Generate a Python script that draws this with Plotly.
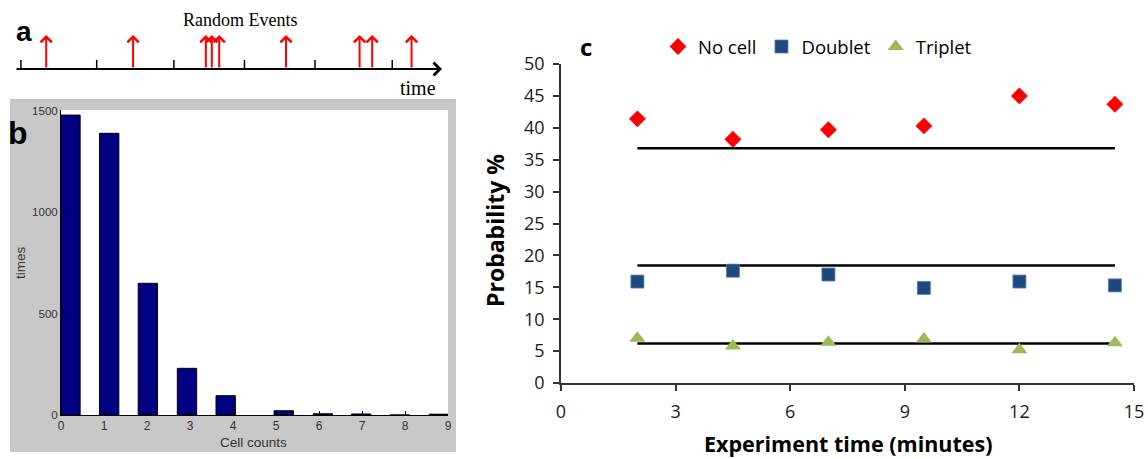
import plotly.graph_objects as go

W, H = 1148, 459

# ---------------- data ----------------
# panel a: random events on a timeline (arbitrary time units)
event_times = [0.34, 1.51, 2.49, 2.57, 2.67, 3.57, 4.56, 4.73, 5.26]
timeline_ticks = [0, 1.02, 2.06, 3.01, 3.96, 5.0]
timeline_range = [-0.08, 5.67]

# panel b: histogram of cell counts
cell_count_bins = [0.22, 1.12, 2.02, 2.93, 3.83, 5.18, 6.09, 6.98, 7.88, 8.79]
cell_count_times = [1478, 1388, 649, 230, 95, 21, 6, 5, 0, 4]
b_xticks = [0, 1, 2, 3, 4, 5, 6, 7, 8, 9]
b_yticks = [0, 500, 1000, 1500]

# panel c: probabilities vs experiment time
exp_time = [2, 4.5, 7, 9.5, 12, 14.5]
no_cell = [41.4, 38.2, 39.7, 40.3, 45.0, 43.7]
doublet = [15.9, 17.6, 17.0, 14.9, 15.9, 15.3]
triplet = [7.0, 5.8, 6.4, 6.9, 5.2, 6.3]
poisson_levels = [36.8, 18.4, 6.2]
c_xticks = [0, 3, 6, 9, 12, 15]
c_yticks = [0, 5, 10, 15, 20, 25, 30, 35, 40, 45, 50]


def px_x(p):
    return p / W


def px_y(p):
    return 1 - p / H


def label(text, x, y, family, size, color="black", bold=False, angle=0):
    f = dict(family=family, size=size, color=color)
    if bold:
        f["weight"] = "bold"
    return dict(text=text, x=px_x(x), y=px_y(y), xref="paper", yref="paper",
                xanchor="center", yanchor="middle", textangle=angle,
                showarrow=False, font=f)


fig = go.Figure()

# ---------- panel a ----------
fig.add_trace(go.Scatter(
    x=timeline_ticks, y=[0] * len(timeline_ticks), mode="markers",
    marker=dict(symbol="line-ns", size=13, line=dict(color="black", width=1.5)),
    xaxis="x", yaxis="y", showlegend=False, hoverinfo="skip"))

annotations = []
annotations.append(dict(
    x=timeline_range[1], y=0, ax=timeline_range[0], ay=0,
    xref="x", yref="y", axref="x", ayref="y", text="",
    showarrow=True, arrowhead=4, arrowsize=1.25, arrowwidth=2, arrowcolor="black"))
for t in event_times:
    annotations.append(dict(
        x=t, y=1, ax=t, ay=0, xref="x", yref="y", axref="x", ayref="y", text="",
        showarrow=True, arrowhead=4, arrowsize=1.1, arrowwidth=2, arrowcolor="#FF0000"))

# ---------- panel b ----------
fig.add_trace(go.Bar(
    x=cell_count_bins, y=cell_count_times, width=0.45,
    marker=dict(color="#000080", line=dict(color="black", width=1)),
    xaxis="x2", yaxis="y2", showlegend=False))

# ---------- panel c ----------
for lvl in poisson_levels:
    fig.add_trace(go.Scatter(
        x=[exp_time[0], exp_time[-1]], y=[lvl, lvl], mode="lines",
        line=dict(color="black", width=2.5),
        xaxis="x3", yaxis="y3", showlegend=False, hoverinfo="skip"))

fig.add_trace(go.Scatter(
    x=exp_time, y=no_cell, mode="markers", name="No cell",
    marker=dict(symbol="diamond", size=13, color="#FF0000"),
    xaxis="x3", yaxis="y3"))
fig.add_trace(go.Scatter(
    x=exp_time, y=doublet, mode="markers", name="Doublet",
    marker=dict(symbol="square", size=13, color="#1F497D",
                line=dict(color="#4F81BD", width=0.8)),
    xaxis="x3", yaxis="y3"))
fig.add_trace(go.Scatter(
    x=exp_time, y=triplet, mode="markers", name="Triplet",
    marker=dict(symbol="triangle-up", size=14, color="#9BBB59"),
    xaxis="x3", yaxis="y3"))

annotations += [
    label("a", 24, 31, "Liberation Sans", 28, bold=True),
    label("Random Events", 240, 20, "Liberation Serif", 18),
    label("time", 418, 88, "Liberation Serif", 20),
    label("b", 18, 133, "Liberation Sans", 32, bold=True),
    label("times", 20, 263, "Liberation Sans", 13.5, color="#333333", angle=-90),
    label("Cell counts", 253, 442, "Liberation Sans", 13.5, color="#333333"),
    label("c", 586, 46, "Open Sans", 24, bold=True),
    label("Probability %", 495, 231, "Open Sans", 23, bold=True, angle=-90),
    label("Experiment time (minutes)", 848, 443, "Open Sans", 21.5, bold=True),
]

shapes = [
    dict(type="rect", xref="paper", yref="paper", x0=px_x(10), x1=px_x(456),
         y0=px_y(452), y1=px_y(99), fillcolor="#C8C8C8", line=dict(width=0), layer="below"),
    dict(type="rect", xref="x2 domain", yref="y2 domain", x0=0, x1=1, y0=0, y1=1,
         fillcolor="white", line=dict(width=0), layer="below"),
]

fig.update_layout(
    template="none",
    width=W, height=H, margin=dict(l=0, r=0, t=0, b=0, pad=0, autoexpand=False),
    paper_bgcolor="white", plot_bgcolor="rgba(0,0,0,0)",
    annotations=annotations, shapes=shapes,
    xaxis=dict(domain=[px_x(15), px_x(442)], range=timeline_range, visible=False,
               automargin=False, fixedrange=True),
    yaxis=dict(domain=[px_y(69), px_y(35)], range=[0, 1], visible=False,
               automargin=False, fixedrange=True),
    xaxis2=dict(domain=[px_x(61), px_x(448)], range=[0, 9], tickvals=b_xticks,
                ticks="inside", ticklen=4, tickcolor="black", showline=True, linecolor="black",
                linewidth=1, showgrid=False, zeroline=False, automargin=False,
                tickfont=dict(family="Liberation Sans", size=12, color="#333333"), anchor="y2"),
    yaxis2=dict(domain=[px_y(415), px_y(110)], range=[0, 1503], tickvals=b_yticks,
                ticks="inside", ticklen=4, tickcolor="black", showline=True, linecolor="black",
                linewidth=1, showgrid=False, zeroline=False, automargin=False,
                tickfont=dict(family="Liberation Sans", size=11.5, color="#333333"), anchor="x2"),
    xaxis3=dict(domain=[px_x(561), px_x(1134)], range=[0, 15], tickvals=c_xticks,
                ticks="outside", ticklen=6, tickcolor="#333333", tickwidth=1.5, showline=True,
                linecolor="#333333", linewidth=1.5, showgrid=False, zeroline=False, automargin=False,
                ticklabelstandoff=6,
                tickfont=dict(family="Open Sans", size=18, color="#1a1a1a"), anchor="y3"),
    yaxis3=dict(domain=[px_y(383), px_y(64)], range=[0, 50], tickvals=c_yticks,
                ticks="outside", ticklen=6, tickcolor="#333333", tickwidth=1.5, showline=True,
                linecolor="#333333", linewidth=1.5, showgrid=False, zeroline=False, automargin=False,
                ticklabelstandoff=5,
                tickfont=dict(family="Open Sans", size=18, color="#1a1a1a"), anchor="x3"),
    legend=dict(orientation="h", x=px_x(658), y=px_y(47), xanchor="left", yanchor="middle",
                font=dict(family="Open Sans", size=18.5, color="black"), bgcolor="rgba(0,0,0,0)",
                itemwidth=30),
)

fig.write_html("out.html")
